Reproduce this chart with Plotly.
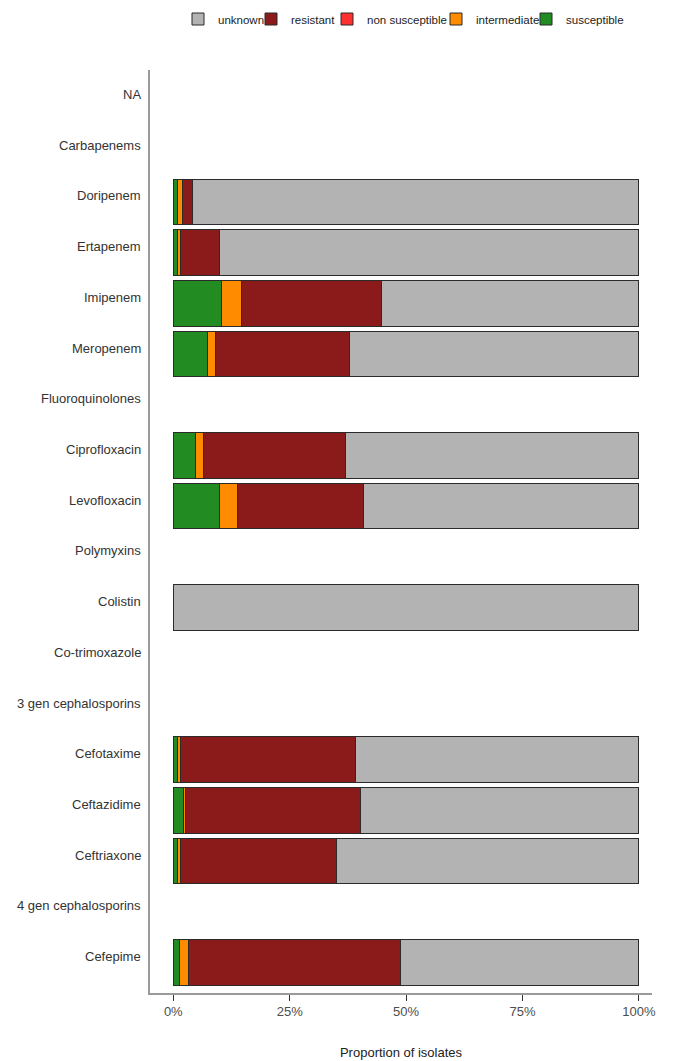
import plotly.graph_objects as go

# Antibiotic rows, top to bottom (group headers carry no data)
categories = [
    "NA", "Carbapenems", "Doripenem", "Ertapenem", "Imipenem", "Meropenem",
    "Fluoroquinolones", "Ciprofloxacin", "Levofloxacin", "Polymyxins", "Colistin",
    "Co-trimoxazole", "3 gen cephalosporins", "Cefotaxime", "Ceftazidime",
    "Ceftriaxone", "4 gen cephalosporins", "Cefepime",
]

# Proportion of isolates (%) per interpretation
susceptible = [None, None, 0.9, 1.0, 10.3, 7.3, None, 4.8, 10.0, None, 0.0,
               None, None, 1.0, 2.1, 0.9, None, 1.4]
intermediate = [None, None, 1.0, 0.6, 4.3, 1.8, None, 1.6, 3.8, None, 0.0,
                None, None, 0.6, 0.5, 0.6, None, 1.9]
non_susceptible = [None, None, 0.0, 0.0, 0.0, 0.0, None, 0.0, 0.0, None, 0.0,
                   None, None, 0.0, 0.0, 0.0, None, 0.0]
resistant = [None, None, 2.2, 8.4, 30.1, 28.7, None, 30.5, 27.0, None, 0.0,
             None, None, 37.6, 37.7, 33.6, None, 45.5]
unknown = [None, None, 95.9, 90.0, 55.3, 62.2, None, 63.1, 59.2, None, 100.0,
           None, None, 60.8, 59.7, 64.9, None, 51.2]

x_tick_vals = [0, 0.25, 0.5, 0.75, 1.0]
x_tick_text = ["0%", "25%", "50%", "75%", "100%"]

# (name, values, fill colour, legend slot, legend left edge in px)
series = [
    ("susceptible", susceptible, "#228B22", "legend5", 526),
    ("intermediate", intermediate, "#FF8C00", "legend4", 436),
    ("non susceptible", non_susceptible, "#FF3030", "legend3", 327),
    ("resistant", resistant, "#8B1A1A", "legend2", 251),
    ("unknown", unknown, "#B3B3B3", "legend", 178),
]

FONT = "Liberation Sans, Arial, sans-serif"
W, H = 674, 1061

fig = go.Figure()
for name, vals, color, leg, _ in series:
    fig.add_trace(go.Bar(
        name=name,
        y=categories,
        x=[v / 100 if v is not None else None for v in vals],
        orientation="h",
        width=0.9,
        legend=leg,
        showlegend=True,
        marker=dict(color=color, line=dict(color="#2b2b2b", width=1)),
    ))

# Row labels, set slightly above each row centre
for cat in categories:
    fig.add_annotation(
        x=0, xref="paper", xanchor="right", xshift=-7,
        y=cat, yref="y", yanchor="middle", yshift=6,
        text=cat, showarrow=False,
        font=dict(family=FONT, size=13, color="#333333"),
    )

legend_style = dict(
    orientation="h",
    xanchor="left", xref="container",
    yref="container", y=1 - 19 / H, yanchor="middle",
    font=dict(family=FONT, size=11.5, color="#222222"),
    itemwidth=30,
    bgcolor="rgba(0,0,0,0)",
)
legends = {}
for _, _, _, leg, left in series:
    legends[leg] = dict(legend_style, x=left / W)

fig.update_layout(
    barmode="stack",
    showlegend=True,
    width=W,
    height=H,
    margin=dict(l=150, r=22, t=70, b=68, autoexpand=False),
    plot_bgcolor="white",
    paper_bgcolor="white",
    font=dict(family=FONT, size=13, color="#333333"),
    xaxis=dict(
        range=[-0.05, 1.028],
        tickvals=x_tick_vals,
        ticktext=x_tick_text,
        ticks="outside", ticklen=6, tickcolor="#333333", tickwidth=1,
        showgrid=False, zeroline=False, automargin=False,
        showline=True, linecolor="#9a9a9a", linewidth=1.5,
        tickfont=dict(family=FONT, size=13, color="#4d4d4d"),
        title=dict(text="Proportion of isolates", standoff=30,
                   font=dict(family=FONT, size=13, color="#222222")),
    ),
    yaxis=dict(
        categoryorder="array",
        categoryarray=categories,
        range=[17.6, -0.6],
        showgrid=False, zeroline=False, automargin=False,
        showline=True, linecolor="#9a9a9a", linewidth=1.5,
        ticks="", showticklabels=False,
    ),
    **legends,
)

fig.write_html("out.html")
